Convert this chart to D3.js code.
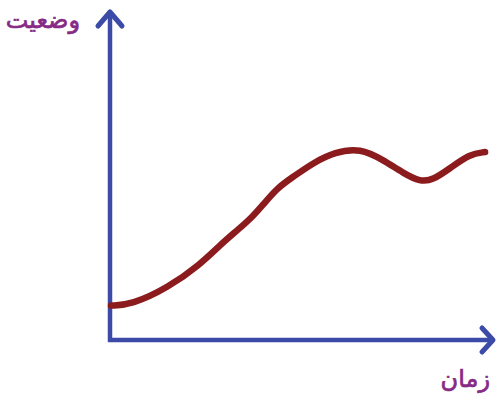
<!DOCTYPE html>
<html>
<head>
<meta charset="utf-8">
<script src="https://cdn.jsdelivr.net/npm/d3@7"></script>
<style>
  body{margin:0;background:#fff;}
  #canvas{width:500px;height:400px;display:block;}
</style>
</head>
<body>
<svg id="canvas" width="500" height="400"></svg>
<script>
// time (0-100) and status (0-100)
let times=[0,5.3,15,23.5,28.8,34,37.5,40.1,43.8,48,53.3,59.1,65.8,71.8,77.1,81.6,85,89.5,94.7,98.7];
let status=[10.5,10.7,15.9,23,29,34.1,37.8,41.2,46.3,49.7,54,57.3,58.5,54.9,50.9,48.2,48.8,52.4,56.7,57.3];
let yLabel="وضعیت";
let xLabel="زمان";

let canvas=d3.select("#canvas");

let xScale=d3.scaleLinear().domain([0,100]).range([111,490]);
let yScale=d3.scaleLinear().domain([0,100]).range([340,12]);

let axisColor="#3c4aa8";
let x0=xScale(0), y0=yScale(0);
let xEnd=493, yEnd=12;

// y axis + arrow
canvas.append("line").attr("x1",x0-1).attr("y1",y0+2).attr("x2",x0-1).attr("y2",yEnd+2)
  .style("stroke",axisColor).style("stroke-width",4.5);
canvas.append("path").attr("d",`M${x0-13},${yEnd+14} L${x0-1},${yEnd} L${x0+11},${yEnd+14}`)
  .style("fill","none").style("stroke",axisColor).style("stroke-width",5)
  .style("stroke-linecap","round").style("stroke-linejoin","round");

// x axis + arrow
canvas.append("line").attr("x1",x0-3).attr("y1",y0).attr("x2",xEnd-2).attr("y2",y0)
  .style("stroke",axisColor).style("stroke-width",4.5);
canvas.append("path").attr("d",`M${xEnd-11},${y0-12} L${xEnd},${y0} L${xEnd-11},${y0+12}`)
  .style("fill","none").style("stroke",axisColor).style("stroke-width",5)
  .style("stroke-linecap","round").style("stroke-linejoin","round");

// curve - basis smooths out the wobble of the readings
let path=d3.line().x(d=>xScale(d[0])).y(d=>yScale(d[1])).curve(d3.curveBasis);
canvas.append("path").datum(times.map((t,i)=>[t,status[i]]))
  .attr("d",path)
  .style("fill","none").style("stroke","#8c1b1e").style("stroke-width",6.5)
  .style("stroke-linecap","round").style("stroke-linejoin","round");

// labels (rtl: "start" anchors the right edge)
canvas.append("text").text(yLabel).attr("x",80).attr("y",28).attr("text-anchor","start")
  .attr("direction","rtl").style("font","24px 'DejaVu Sans'").style("fill","#862a86")
  .style("stroke","#862a86").style("stroke-width",0.7);
canvas.append("text").text(xLabel).attr("x",490).attr("y",387).attr("text-anchor","start")
  .attr("direction","rtl").style("font","24px 'DejaVu Sans'").style("fill","#862a86")
  .style("stroke","#862a86").style("stroke-width",0.7);
</script>
</body>
</html>
